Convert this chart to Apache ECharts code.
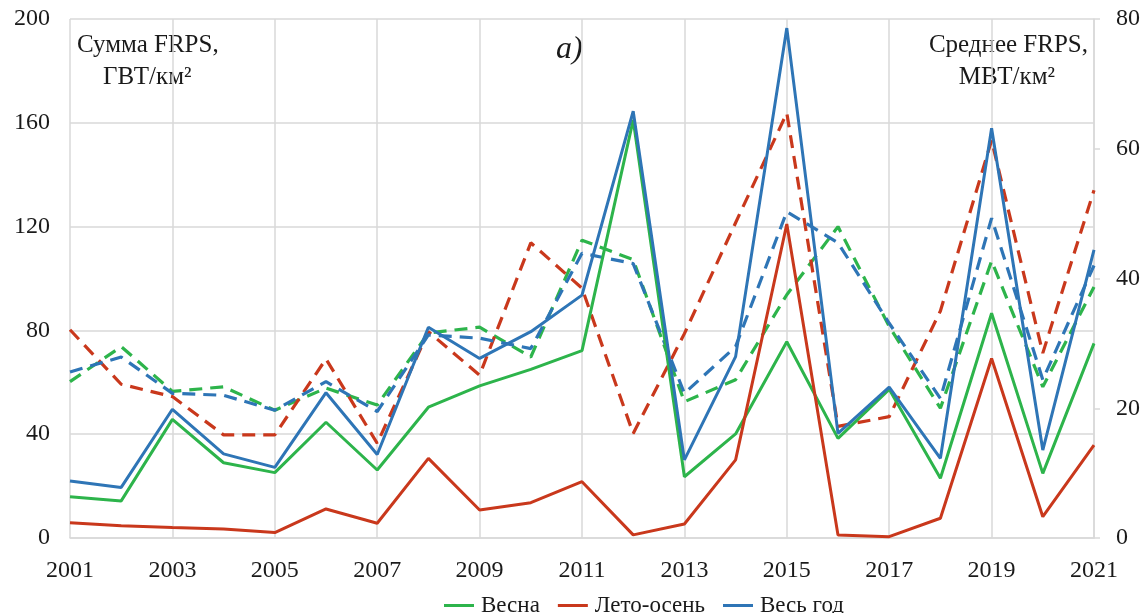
<!DOCTYPE html>
<html>
<head>
<meta charset="utf-8">
<script src="https://cdn.jsdelivr.net/npm/echarts@6/dist/echarts.min.js"></script>
<style>
  html, body { margin: 0; padding: 0; background: #ffffff; }
  #chart { width: 1144px; height: 613px; }
</style>
</head>
<body>
<div id="chart"></div>
<script>
// Years on the horizontal axis
const years = ['2001','2002','2003','2004','2005','2006','2007','2008','2009','2010','2011',
               '2012','2013','2014','2015','2016','2017','2018','2019','2020','2021'];

// Sum of FRPS, GW/km² (left axis, solid lines)
const sumSpring = [15.9, 14.3, 45.7, 29.0, 25.2, 44.6, 26.2, 50.4, 58.6, 65.0, 72.2,
                   161.1, 23.6, 40.1, 75.6, 38.4, 57.3, 23.0, 86.6, 24.9, 75.0];
const sumSummer = [5.9, 4.7, 4.0, 3.5, 2.1, 11.2, 5.7, 30.7, 10.8, 13.6, 21.7,
                   1.2, 5.4, 30.1, 121.0, 1.2, 0.5, 7.6, 69.2, 8.2, 35.8];
const sumYear   = [22.0, 19.5, 49.6, 32.4, 27.2, 56.0, 32.2, 81.2, 69.2, 79.5, 93.6,
                   164.5, 30.1, 69.9, 196.5, 40.3, 58.1, 30.7, 157.9, 33.9, 111.0];

// Mean FRPS, MW/km² (right axis, dashed lines)
const meanSpring = [24.1, 29.5, 22.6, 23.3, 19.7, 23.1, 20.5, 31.6, 32.5, 27.9, 45.9,
                    42.9, 21.0, 24.4, 37.5, 48.0, 32.6, 20.0, 42.7, 23.3, 38.7];
const meanSummer = [32.1, 23.7, 21.8, 15.9, 15.9, 27.6, 14.6, 31.8, 25.1, 45.5, 38.5,
                    16.1, 31.5, 48.6, 65.5, 17.2, 18.7, 35.0, 61.3, 28.5, 53.6];
const meanYear   = [25.6, 27.9, 22.3, 22.0, 19.7, 24.1, 19.5, 31.3, 30.8, 29.2, 43.9,
                    42.3, 22.3, 29.5, 50.3, 45.5, 33.1, 21.5, 49.3, 24.4, 42.0];

const seasonNames = ['Весна', 'Лето-осень', 'Весь год'];
const colors = ['#2db44b', '#c9381c', '#2e75b6'];

const FONT = '"Liberation Serif", "DejaVu Serif", serif';
const TEXT = '#1a1a1a';
const GRID = '#d9d9d9';

function solid(name, data, color) {
  return {
    name: name, type: 'line', yAxisIndex: 0, data: data,
    symbol: 'none', color: color,
    lineStyle: { width: 3, color: color },
    z: 3
  };
}
function dashed(name, data, color) {
  return {
    name: name + ' (среднее)', type: 'line', yAxisIndex: 1, data: data,
    symbol: 'none', color: color,
    lineStyle: { width: 3.2, color: color, type: [13, 8] },
    z: 2
  };
}

const chart = echarts.init(document.getElementById('chart'), null, { renderer: 'canvas' });

chart.setOption({
  backgroundColor: '#ffffff',
  animation: false,
  grid: { left: 70, right: 50, top: 19, bottom: 75, containLabel: false },
  legend: {
    data: seasonNames,
    top: 589,
    left: 439,
    icon: 'rect',
    itemWidth: 30,
    itemHeight: 3,
    itemGap: 18,
    textStyle: { fontFamily: FONT, fontSize: 23, color: TEXT, padding: [0, 0, 0, 2] }
  },
  xAxis: {
    type: 'category',
    data: years,
    boundaryGap: false,
    axisLine: { show: true, lineStyle: { color: GRID, width: 1.5 } },
    axisTick: { show: false },
    axisLabel: { interval: 1, fontFamily: FONT, fontSize: 24, color: TEXT, margin: 21 },
    splitLine: { show: true, interval: 1, lineStyle: { color: GRID, width: 1.5 } }
  },
  yAxis: [
    {
      type: 'value', min: 0, max: 200, interval: 40, position: 'left',
      axisLine: { show: false }, axisTick: { show: false },
      axisLabel: { fontFamily: FONT, fontSize: 24, color: TEXT, margin: 20 },
      splitLine: { show: true, lineStyle: { color: GRID, width: 1.5 } }
    },
    {
      type: 'value', min: 0, max: 80, interval: 20, position: 'right',
      axisLine: { show: true, lineStyle: { color: GRID, width: 1.5 } },
      axisTick: { show: true, inside: false, length: 6, lineStyle: { color: GRID, width: 1.5 } },
      axisLabel: { fontFamily: FONT, fontSize: 24, color: TEXT, margin: 22 },
      splitLine: { show: false }
    }
  ],
  graphic: [
    { type: 'text', left: 77, top: 33,
      style: { text: 'Сумма FRPS,', font: '25px ' + FONT, fill: TEXT } },
    { type: 'text', left: 103, top: 65,
      style: { text: 'ГВТ/км²', font: '25px ' + FONT, fill: TEXT } },
    { type: 'text', left: 556, top: 34,
      style: { text: 'а)', font: 'italic 32px ' + FONT, fill: TEXT } },
    { type: 'text', right: 56, top: 33,
      style: { text: 'Среднее FRPS,', font: '25px ' + FONT, fill: TEXT } },
    { type: 'text', right: 89, top: 65,
      style: { text: 'МВТ/км²', font: '25px ' + FONT, fill: TEXT } }
  ],
  series: [
    dashed(seasonNames[0], meanSpring, colors[0]),
    dashed(seasonNames[1], meanSummer, colors[1]),
    dashed(seasonNames[2], meanYear, colors[2]),
    solid(seasonNames[0], sumSpring, colors[0]),
    solid(seasonNames[1], sumSummer, colors[1]),
    solid(seasonNames[2], sumYear, colors[2])
  ]
});
</script>
</body>
</html>
